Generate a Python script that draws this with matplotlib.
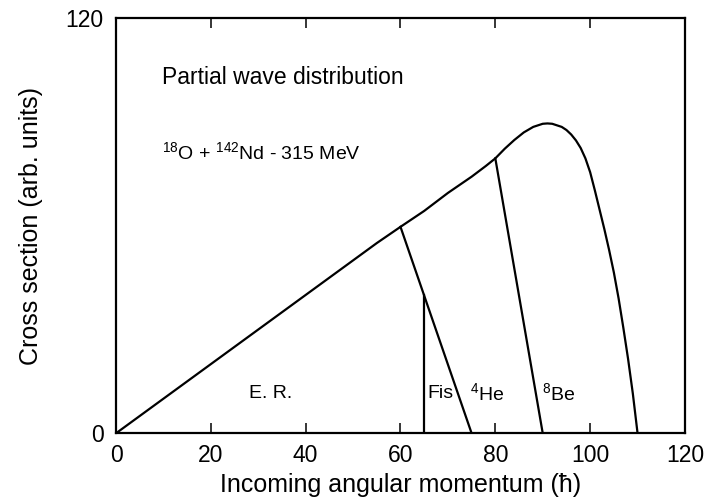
import matplotlib
matplotlib.use("Agg")
import matplotlib.pyplot as plt

plt.rcParams["font.family"] = ["Liberation Sans", "DejaVu Sans"]
plt.rcParams["mathtext.fontset"] = "custom"
plt.rcParams["mathtext.rm"] = "Liberation Sans"
plt.rcParams["mathtext.it"] = "Liberation Sans"

# Envelope of the partial wave distribution
l_env = [0, 20, 40, 55, 60, 65, 70, 75, 78, 80, 82, 84, 86, 88, 90, 91, 92, 94, 95, 96,
         97, 98, 99, 100, 101, 102, 103, 104, 105, 106, 107, 108, 109, 110]
sigma_env = [0, 20, 40, 55, 59.7, 64.3, 69.5, 74.2, 77.3, 79.5, 82.3, 84.8, 87.0, 88.6, 89.5,
             89.6, 89.5, 88.6, 87.7, 86.4, 84.7, 82.5, 79.5, 75.5, 70.2, 64.6, 59.0,
             53.0, 46.5, 39.0, 30.5, 21.5, 11.5, 0]

# Boundaries between decay channels
er_he_l = [60, 75]
er_he_s = [59.7, 0]
fis_l = [65, 65]
fis_s = [0, 40]
he_be_l = [80, 90]
he_be_s = [79.5, 0]

x_ticks = [0, 20, 40, 60, 80, 100, 120]
y_ticks = [0, 120]

channel_labels = ["E. R.", "Fis", r"$^{4}$He", r"$^{8}$Be"]
channel_x = [32.6, 65.6, 74.7, 89.9]
channel_ha = ["center", "left", "left", "left"]

fig = plt.figure(figsize=(7.13, 5.03), dpi=100)
ax = fig.add_axes([0.1627, 0.1386, 0.7980, 0.8250])

lw = 1.6
ax.plot(l_env, sigma_env, color="black", lw=lw, solid_joinstyle="round")
ax.plot(er_he_l, er_he_s, color="black", lw=lw)
ax.plot(fis_l, fis_s, color="black", lw=lw)
ax.plot(he_be_l, he_be_s, color="black", lw=lw)

for lab, xx, ha in zip(channel_labels, channel_x, channel_ha):
    ax.text(xx, 11.5, lab, ha=ha, va="center", fontsize=14)

ax.text(9.7, 102.8, "Partial wave distribution", ha="left", va="center", fontsize=16.5)
ax.text(9.7, 81.3, r"$^{18}$O + $^{142}$Nd - 315 MeV", ha="left", va="center", fontsize=14)

ax.set_xlim(0, 120)
ax.set_ylim(0, 120)
ax.set_xticks(x_ticks)
ax.set_yticks(y_ticks)
ax.tick_params(axis="x", direction="in", length=7, width=1.1, top=True, labelsize=16.5, pad=8)
ax.tick_params(axis="y", length=0, labelsize=16.5, pad=9)
for s in ax.spines.values():
    s.set_linewidth(1.6)

ax.set_xlabel("Incoming angular momentum (ħ)", fontsize=18, labelpad=4)
ax.set_ylabel("Cross section (arb. units)", fontsize=18, labelpad=16)

fig.savefig("out.png", dpi=100)
